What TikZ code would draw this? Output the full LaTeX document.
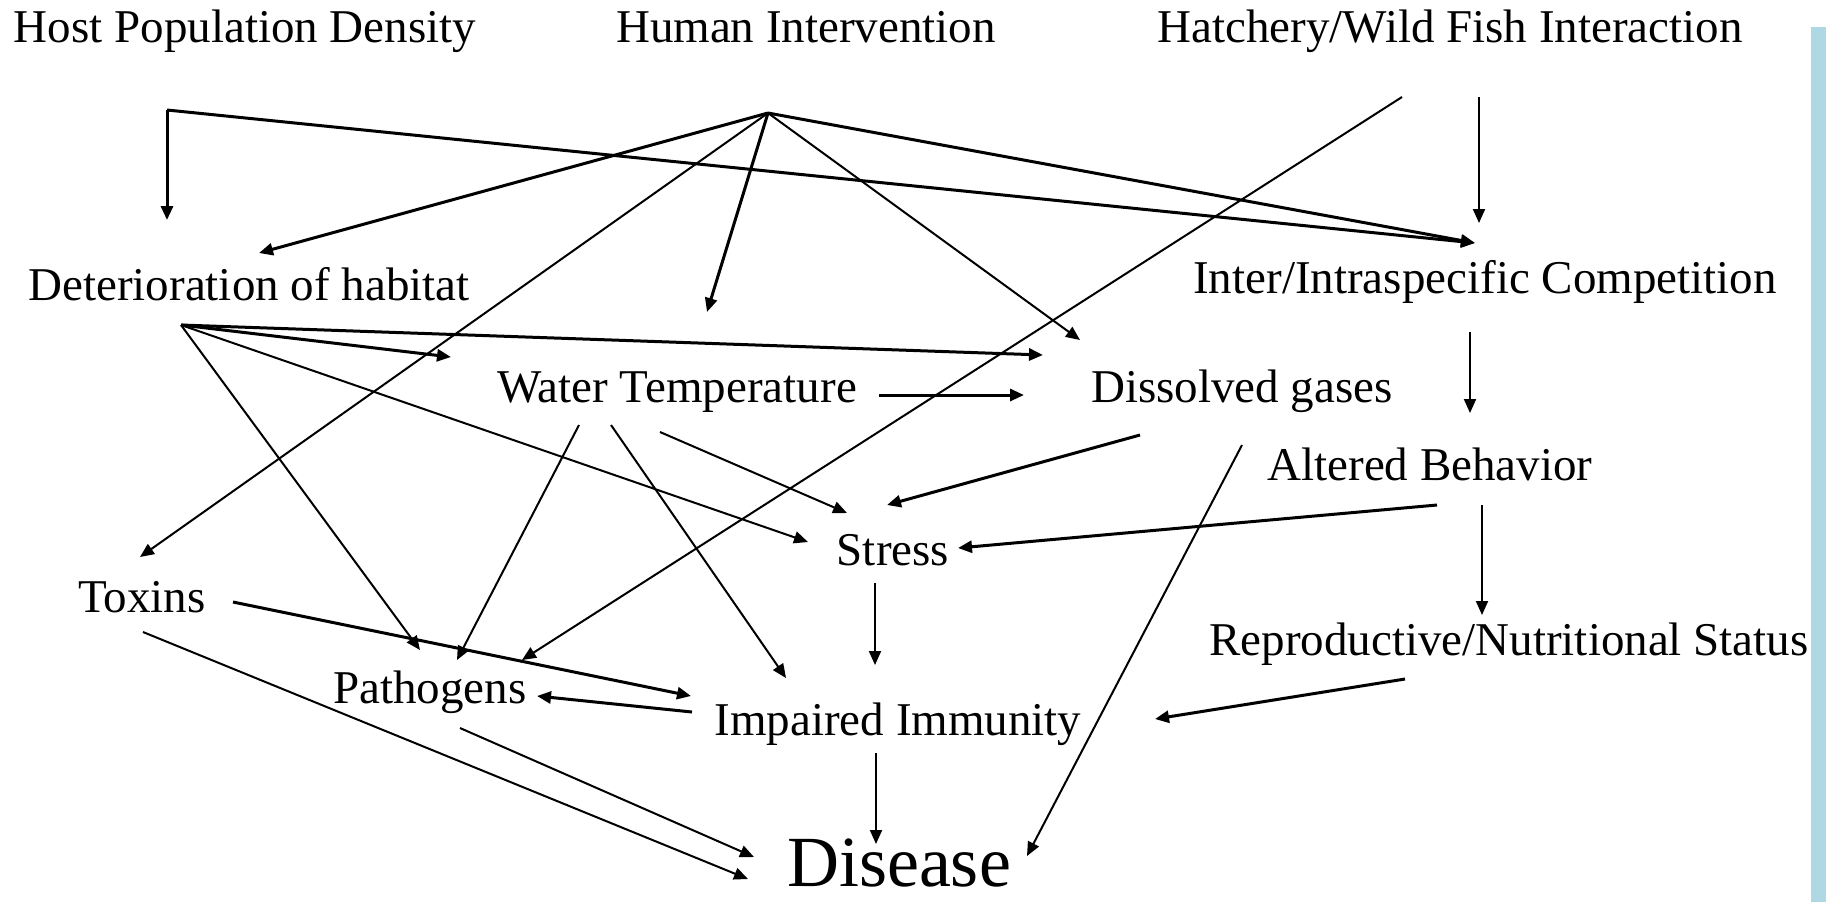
\documentclass[tikz,border=0pt]{standalone}
\usepackage{fontspec}
\setmainfont{Liberation Serif}
\usetikzlibrary{arrows.meta}

\definecolor{barblue}{RGB}{175,216,229}

\tikzset{
  factor/.style={anchor=base, inner sep=0pt, font=\fontsize{23.5}{28}\selectfont},
  link/.style={line width=1pt, -{Triangle[length=7pt,width=6pt]}},
  boldlink/.style={link, line width=1.5pt},
}

\begin{document}
\begin{tikzpicture}[x=0.5pt, y=-0.5pt]
    \useasboundingbox (0,0) rectangle (1826,902);

    % Blue strip on the right edge
    \fill[barblue] (1811,27) rectangle (1826,902);

    % Top row of causes
    \node[factor] (host) at (245,42) {Host Population Density};
    \node[factor] (human) at (806,42) {Human Intervention};
    \node[factor] (hatch) at (1450,42) {Hatchery/Wild Fish Interaction};

    % Middle factors
    \node[factor] (habitat) at (249,300) {Deterioration of habitat};
    \node[factor] (comp) at (1485,293) {Inter/Intraspecific Competition};
    \node[factor] (water) at (677,402) {Water Temperature};
    \node[factor] (gases) at (1242,402) {Dissolved gases};
    \node[factor] (behav) at (1430,480) {Altered Behavior};
    \node[factor] (stress) at (893,565) {Stress};
    \node[factor] (toxins) at (142,612) {Toxins};
    \node[factor] (repro) at (1509,655) {Reproductive/Nutritional Status};
    \node[factor] (patho) at (430,703) {Pathogens};
    \node[factor] (immun) at (898,735) {Impaired Immunity};

    % The outcome
    \node[factor, font=\fontsize{36}{43}\selectfont] (disease) at (899,886) {Disease};

    % Points where the fans of arrows start
    \coordinate (hostHub) at (167,110);
    \coordinate (humanHub) at (768,113);
    \coordinate (habitatHub) at (181,325);

    % Arrows from Host Population Density
    \draw[boldlink] (hostHub) -- ([shift={(-82,-80)}]habitat.base);
    \draw[boldlink] (hostHub) -- ([shift={(-10,-50)}]comp.base);

    % Arrows from Human Intervention
    \draw[boldlink] (humanHub) -- ([shift={(10,-47)}]habitat.base);
    \draw[link] (humanHub) -- ([shift={(-2,-55)}]toxins.base);
    \draw[boldlink] (humanHub) -- ([shift={(30,-90)}]water.base);
    \draw[link] (humanHub) -- ([shift={(-162,-62)}]gases.base);
    \draw[boldlink] (humanHub) -- ([shift={(-10,-50)}]comp.base);

    % Arrows from Hatchery/Wild Fish Interaction
    \draw[link] ([shift={(-48,55)}]hatch.base) -- ([shift={(92,-43)}]patho.base);
    \draw[link] ([shift={(29,55)}]hatch.base) -- ([shift={(-6,-70)}]comp.base);

    % Arrows from Deterioration of habitat
    \draw[boldlink] (habitatHub) -- ([shift={(-226,-45)}]water.base);
    \draw[boldlink] (habitatHub) -- ([shift={(-199,-47)}]gases.base);
    \draw[link] (habitatHub) -- ([shift={(-85,-23)}]stress.base);
    \draw[link] (habitatHub) -- ([shift={(-10,-53)}]patho.base);

    % Competition and behaviour chain
    \draw[link] ([shift={(-15,39)}]comp.base) -- ([shift={(40,-67)}]behav.base);
    \draw[boldlink] ([shift={(7,25)}]behav.base) -- ([shift={(65,-17)}]stress.base);
    \draw[link] ([shift={(52,25)}]behav.base) -- ([shift={(-27,-40)}]repro.base);
    \draw[boldlink] ([shift={(-104,24)}]repro.base) -- ([shift={(257,-16)}]immun.base);

    % Arrows from Water Temperature
    \draw[boldlink] ([shift={(202,-7)}]water.base) -- ([shift={(-218,-7)}]gases.base);
    \draw[link] ([shift={(-98,23)}]water.base) -- ([shift={(27,-43)}]patho.base);
    \draw[link] ([shift={(-66,23)}]water.base) -- ([shift={(-112,-57)}]immun.base);
    \draw[link] ([shift={(-17,30)}]water.base) -- ([shift={(-46,-52)}]stress.base);

    % Arrows from Dissolved gases
    \draw[boldlink] ([shift={(-102,33)}]gases.base) -- ([shift={(-6,-60)}]stress.base);
    \draw[link] ([shift={(0,43)}]gases.base) -- ([shift={(128,-30)}]disease.base);

    % Stress, toxins and pathogens
    \draw[link] ([shift={(-18,18)}]stress.base) -- ([shift={(-23,-70)}]immun.base);
    \draw[boldlink] ([shift={(91,-10)}]toxins.base) -- ([shift={(-207,-39)}]immun.base);
    \draw[link] ([shift={(1,20)}]toxins.base) -- ([shift={(-151,-7)}]disease.base);
    \draw[boldlink] ([shift={(-206,-23)}]immun.base) -- ([shift={(107,-7)}]patho.base);
    \draw[link] ([shift={(30,25)}]patho.base) -- ([shift={(-145,-29)}]disease.base);
    \draw[link] ([shift={(-22,18)}]immun.base) -- ([shift={(-23,-42)}]disease.base);

\end{tikzpicture}
\end{document}
